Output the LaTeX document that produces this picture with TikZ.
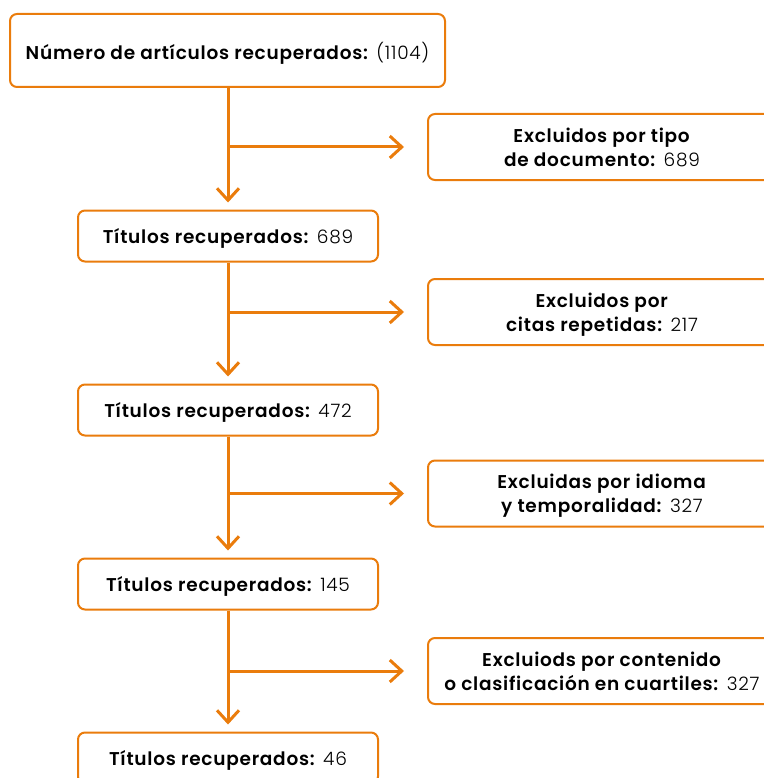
\documentclass[tikz,border=0pt]{standalone}
\usepackage{fontspec}
\setmainfont{Poppins Light}[LetterSpace=4, BoldFont={Poppins SemiBold}]
\usetikzlibrary{arrows.meta}

\definecolor{naranja}{RGB}{234,124,12}

\begin{document}
\begin{tikzpicture}[x=1pt,y=-1pt]

% Styles
\tikzset{
    caja/.style={draw=naranja, line width=2pt, rounded corners=7pt, fill=white,
        align=center, font=\fontsize{18.5}{24}\selectfont, inner sep=0pt, text depth=0pt},
    flecha/.style={draw=naranja, line width=3pt, -{Straight Barb[length=12pt,width=22pt,line width=3pt]}}
}

\useasboundingbox (0,0) rectangle (763,778);

% Boxes
\node[caja, minimum width=435pt, minimum height=73pt] (NUM) at (227.5,50.5)
    {\textbf{Número de artículos recuperados:} (1104)};
\node[caja, minimum width=300pt, minimum height=51pt] (TITa) at (228,236)
    {\textbf{Títulos recuperados:} 689};
\node[caja, minimum width=300pt, minimum height=51pt] (TITb) at (228,410)
    {\textbf{Títulos recuperados:} 472};
\node[caja, minimum width=300pt, minimum height=51pt] (TITc) at (228,584)
    {\textbf{Títulos recuperados:} 145};
\node[caja, minimum width=300pt, minimum height=51pt] (TITd) at (228,758)
    {\textbf{Títulos recuperados:} 46};

\node[caja, minimum width=348pt, minimum height=66pt] (EXa) at (602,147)
    {\textbf{Excluidos por tipo}\\ \textbf{de documento:} 689};
\node[caja, minimum width=348pt, minimum height=66pt] (EXb) at (602,312)
    {\textbf{Excluidos por}\\ \textbf{citas repetidas:} 217};
\node[caja, minimum width=348pt, minimum height=66pt] (EXc) at (602,493.5)
    {\textbf{Excluidas por idioma}\\ \textbf{y temporalidad:} 327};
\node[caja, minimum width=348pt, minimum height=66pt] (EXd) at (602,671)
    {\textbf{Excluiods por contenido}\\ \textbf{o clasificación en cuartiles:} 327};

% Connection
\draw[flecha, shorten >=7pt] (NUM.south -| TITa.north) -- (TITa.north);
\draw[flecha, shorten >=7pt] (TITa) -- (TITb.north);
\draw[flecha, shorten >=7pt] (TITb) -- (TITc.north);
\draw[flecha, shorten >=7pt] (TITc) -- (TITd.north);

\draw[flecha, shorten >=23pt] (TITa.north |- EXa.west) -- (EXa.west);
\draw[flecha, shorten >=23pt] (TITa.north |- EXb.west) -- (EXb.west);
\draw[flecha, shorten >=23pt] (TITa.north |- EXc.west) -- (EXc.west);
\draw[flecha, shorten >=23pt] (TITa.north |- EXd.west) -- (EXd.west);

\end{tikzpicture}
\end{document}
